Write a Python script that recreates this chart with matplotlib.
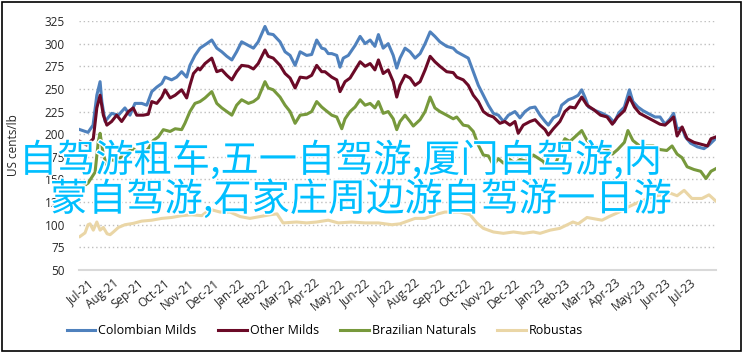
import matplotlib
matplotlib.use("Agg")
import matplotlib.pyplot as plt
import matplotlib.patheffects as pe
from matplotlib.patches import Rectangle

# x positions are in months, 0 = Jul-21
months = ["Jul-21", "Aug-21", "Sep-21", "Oct-21", "Nov-21", "Dec-21", "Jan-22", "Feb-22",
          "Mar-22", "Apr-22", "May-22", "Jun-22", "Jul-22", "Aug-22", "Sep-22", "Oct-22",
          "Nov-22", "Dec-22", "Jan-23", "Feb-23", "Mar-23", "Apr-23", "May-23", "Jun-23", "Jul-23"]

colombian_x = [-0.32, 0, 0.2, 0.35, 0.48, 0.55, 0.68, 0.94, 1.21, 1.47, 1.67, 1.87, 2.14, 2.34,
               2.54, 2.74, 2.94, 3.07, 3.33, 3.53, 3.73, 3.93, 4.06, 4.26, 4.46, 4.73, 4.93,
               5.13, 5.33, 5.53, 5.73, 5.92, 6.12, 6.39, 6.59, 6.78, 7.05, 7.18, 7.38, 7.65,
               7.85, 8.05, 8.25, 8.45, 8.71, 8.91, 9.11, 9.31, 9.44, 9.57, 9.71, 9.91, 10.04,
               10.17, 10.37, 10.64, 10.84, 11.04, 11.24, 11.43, 11.57, 11.76, 11.96, 12.16,
               12.3, 12.43, 12.63, 12.83, 13.03, 13.23, 13.43, 13.63, 13.82, 14.02, 14.29,
               14.55, 14.69, 14.95, 15.15, 15.35, 15.55, 15.75, 15.95, 16.15, 16.35, 16.55,
               16.75, 17.01, 17.21, 17.41, 17.61, 17.81, 18.01, 18.21, 18.34, 18.54, 18.74,
               18.87, 19.14, 19.33, 19.53, 19.67, 19.81, 19.94, 20.22, 20.49, 20.76, 20.96,
               21.16, 21.37, 21.57, 21.71, 21.91, 22.11, 22.31, 22.59, 22.79, 22.99, 23.19,
               23.33, 23.47, 23.67, 23.8, 24.01, 24.28, 24.54, 24.74, 24.96, 25.02]
colombian = [205, 202, 210, 243, 258, 236, 214, 223, 221, 229, 221, 234, 234, 232,
             247, 252, 256, 263, 260, 263, 269, 263, 276, 287, 295, 300, 304,
             295, 291, 286, 282, 291, 302, 298, 295, 302, 319, 311, 310, 302,
             291, 287, 276, 291, 287, 288, 304, 295, 294, 289, 289, 287, 274,
             284, 287, 298, 308, 300, 304, 297, 310, 295, 300, 287,
             273, 284, 295, 291, 284, 289, 300, 313, 308, 302, 297,
             295, 291, 287, 284, 269, 254, 243, 232, 223, 221, 214,
             221, 225, 218, 225, 229, 230, 221, 214, 210, 218, 221,
             232, 238, 240, 243, 249, 240, 230, 226, 223, 219, 213,
             224, 230, 249, 236, 230, 226, 223, 219, 219, 211, 217,
             223, 206, 207, 197, 190, 186, 184, 188, 194, 196]

other_x = [-0.32, -0.05, 0.21, 0.35, 0.48, 0.61, 0.75, 0.94, 1.14, 1.34, 1.61, 1.8, 1.94, 2.2,
           2.4, 2.54, 2.74, 2.94, 3.07, 3.27, 3.47, 3.73, 3.93, 4.06, 4.2, 4.39, 4.46, 4.66,
           4.93, 5.13, 5.33, 5.53, 5.73, 5.92, 6.12, 6.39, 6.59, 6.78, 7.05, 7.18, 7.38,
           7.65, 7.85, 8.05, 8.25, 8.45, 8.71, 8.91, 9.11, 9.31, 9.44, 9.71, 9.91, 10.04,
           10.24, 10.44, 10.64, 10.84, 11.04, 11.24, 11.43, 11.57, 11.76, 11.96, 12.16,
           12.3, 12.43, 12.63, 12.83, 13.03, 13.23, 13.43, 13.63, 13.82, 14.02, 14.29,
           14.55, 14.69, 14.95, 15.15, 15.35, 15.55, 15.75, 15.95, 16.15, 16.41, 16.61,
           16.81, 17.01, 17.14, 17.34, 17.61, 17.81, 18.01, 18.21, 18.34, 18.54, 18.8,
           19.0, 19.2, 19.4, 19.67, 19.88, 20.15, 20.42, 20.68, 20.89, 21.1, 21.37, 21.57,
           21.77, 21.98, 22.25, 22.52, 22.79, 22.99, 23.19, 23.33, 23.47, 23.67, 23.87,
           24.14, 24.41, 24.68, 24.82, 25.02]
other = [192, 188, 195, 229, 243, 221, 210, 214, 221, 214, 225, 229, 221, 221,
         222, 236, 234, 241, 249, 240, 243, 249, 240, 254, 267, 273, 271, 278,
         284, 269, 271, 265, 260, 269, 276, 275, 272, 278, 293, 286, 284,
         276, 267, 262, 251, 263, 262, 265, 276, 269, 269, 263, 260, 247,
         258, 262, 271, 280, 275, 278, 271, 282, 267, 271, 258,
         241, 254, 265, 262, 254, 258, 271, 286, 280, 275, 269,
         268, 263, 260, 254, 243, 236, 225, 221, 219, 212, 214,
         210, 214, 201, 210, 214, 216, 210, 205, 199, 206, 214,
         225, 230, 229, 241, 232, 227, 221, 219, 211, 219, 226, 241,
         230, 223, 219, 215, 211, 210, 215, 219, 198, 208, 195,
         191, 189, 187, 195, 197]

brazilian_x = [-0.32, 0, 0.28, 0.41, 0.48, 0.61, 0.75, 0.92, 1.14, 1.47, 1.8, 2.14, 2.4, 2.6,
               2.8, 3.0, 3.27, 3.47, 3.73, 3.86, 4.06, 4.26, 4.46, 4.66, 4.93, 5.13, 5.33,
               5.53, 5.73, 5.92, 6.12, 6.39, 6.59, 6.78, 7.05, 7.18, 7.38, 7.65, 7.85, 8.05,
               8.25, 8.45, 8.71, 8.91, 9.11, 9.31, 9.44, 9.71, 9.91, 10.11, 10.24, 10.44,
               10.64, 10.84, 11.04, 11.24, 11.43, 11.57, 11.76, 11.96, 12.16, 12.3, 12.43,
               12.63, 12.83, 12.96, 13.23, 13.43, 13.63, 13.82, 14.02, 14.29, 14.55, 14.69,
               14.95, 15.15, 15.35, 15.55, 15.75, 15.95, 16.15, 16.35, 16.55, 16.75, 17.01,
               17.21, 17.48, 17.74, 18.13, 18.34, 18.67, 18.87, 19.0, 19.2, 19.4, 19.67,
               19.88, 20.15, 20.42, 20.69, 20.89, 21.1, 21.37, 21.51, 21.71, 21.98, 22.25,
               22.52, 22.79, 23.06, 23.27, 23.47, 23.67, 23.87, 24.14, 24.41, 24.62, 24.82,
               25.02]
brazilian = [140, 146, 158, 192, 201, 177, 166, 172, 170, 179, 184, 177, 184, 193,
             197, 205, 203, 206, 205, 212, 225, 234, 236, 240, 247, 234, 229,
             225, 221, 232, 238, 234, 236, 240, 258, 251, 249, 241, 232, 225,
             212, 221, 222, 225, 236, 230, 227, 221, 219, 206, 217, 225,
             230, 238, 232, 234, 229, 236, 223, 225, 217, 205, 214,
             221, 214, 209, 216, 225, 241, 229, 225, 221, 217, 219,
             210, 209, 203, 188, 177, 176, 166, 173, 168, 173, 168,
             172, 170, 177, 170, 162, 170, 188, 195, 192, 197, 204,
             193, 187, 186, 183, 178, 183, 191, 204, 193, 187, 187,
             187, 183, 182, 187, 178, 174, 164, 161, 159, 151, 159,
             162]

robustas_x = [-0.32, -0.12, 0, 0.08, 0.21, 0.35, 0.48, 0.61, 0.76, 0.88, 1.01, 1.21, 1.47, 1.8,
              2.14, 2.54, 2.94, 3.33, 3.73, 4.13, 4.53, 4.86, 5.26, 5.66, 6.06, 6.45, 6.85,
              7.25, 7.53, 7.77, 8.31, 8.71, 9.11, 9.57, 9.97, 10.51, 11.04, 11.57, 12.1,
              12.43, 12.63, 13.03, 13.43, 13.82, 14.22, 14.55, 14.82, 15.22, 15.49, 15.75,
              16.15, 16.55, 16.95, 17.35, 17.74, 18.01, 18.41, 18.8, 19.32, 19.53, 19.88,
              20.08, 20.48, 20.76, 21.16, 21.55, 21.95, 22.51, 23.19, 23.47, 23.75, 24.06,
              24.46, 24.74, 25.02]
robustas = [87, 91, 100, 101, 94, 103, 94, 97, 90, 89, 92, 97, 100, 101.5,
            104, 105, 107, 108, 110, 111, 110, 117, 114, 114, 109, 107, 109,
            111, 112, 102, 103, 102, 103, 105, 102, 103, 102, 102, 100,
            101, 103, 107, 107, 111, 114, 114, 114, 111, 102, 96,
            92, 90.5, 92, 90.5, 92, 90.5, 94, 96, 103, 101, 108,
            107, 105, 109, 114, 120, 125, 131, 135, 132, 138, 129,
            129, 133, 126]

y_ticks = [50, 75, 100, 125, 150, 175, 200, 225, 250, 275, 300, 325]

overlay_lines = ["自驾游租车,五一自驾游,厦门自驾游,内", "蒙自驾游,石家庄周边游自驾游一日游"]

plt.rcParams['font.family'] = ['Open Sans', 'DejaVu Sans']

fig = plt.figure(figsize=(7.43, 3.52), dpi=100)
ax = fig.add_axes([79 / 743, 1 - 270 / 352, (716 - 79) / 743, (270 - 21) / 352])

lw = 2.2
ax.plot(colombian_x, colombian, color='#4f81bd', lw=lw, label='Colombian Milds')
ax.plot(other_x, other, color='#6b0a27', lw=lw, label='Other Milds')
ax.plot(brazilian_x, brazilian, color='#77993c', lw=lw, label='Brazilian Naturals')
ax.plot(robustas_x, robustas, color='#ead6a6', lw=lw, label='Robustas')

ax.set_xlim(-0.36, 25.02)
ax.set_ylim(50, 325)
ax.set_yticks(y_ticks)
ax.set_xticks(range(len(months)))
ax.set_xticklabels(months, rotation=40, ha='right', va='top', rotation_mode='anchor')
ax.tick_params(axis='both', length=0, labelsize=8.5, colors='#262626')
ax.tick_params(axis='y', pad=10)
ax.tick_params(axis='x', pad=5)
ax.yaxis.grid(True, linestyle=(0, (1, 2)), color='#bfbfbf', lw=1)
ax.set_axisbelow(True)
for s in ['top', 'right', 'left']:
    ax.spines[s].set_visible(False)
ax.spines['bottom'].set_color('#d9d9d9')
ax.spines['bottom'].set_linewidth(1.5)
ax.set_ylabel('US cents/lb', fontsize=8.5, color='#262626', labelpad=18)

fig.legend(loc='center', bbox_to_anchor=(325 / 743, 1 - 331 / 352), ncol=4, frameon=False,
           fontsize=9, handlelength=2.3, handletextpad=0.25, columnspacing=1.7)

# big overlay text
fx = [19 / 743, 50 / 743]
fy = [1 - 161 / 352, 1 - 200 / 352]
for t, x0, y0 in zip(overlay_lines, fx, fy):
    fig.text(x0, y0, t, fontsize=27.5, color='#00bfff', ha='left', va='center',
             family=['Noto Sans CJK SC', 'DejaVu Sans'], zorder=10,
             path_effects=[pe.withStroke(linewidth=2, foreground='white')])

fig.patches.append(Rectangle((1.5 / 743, 1.5 / 352), 739.5 / 743, 348.5 / 352,
                             transform=fig.transFigure, fill=False, ec='black', lw=1.2))

fig.savefig('out.png', dpi=100)
